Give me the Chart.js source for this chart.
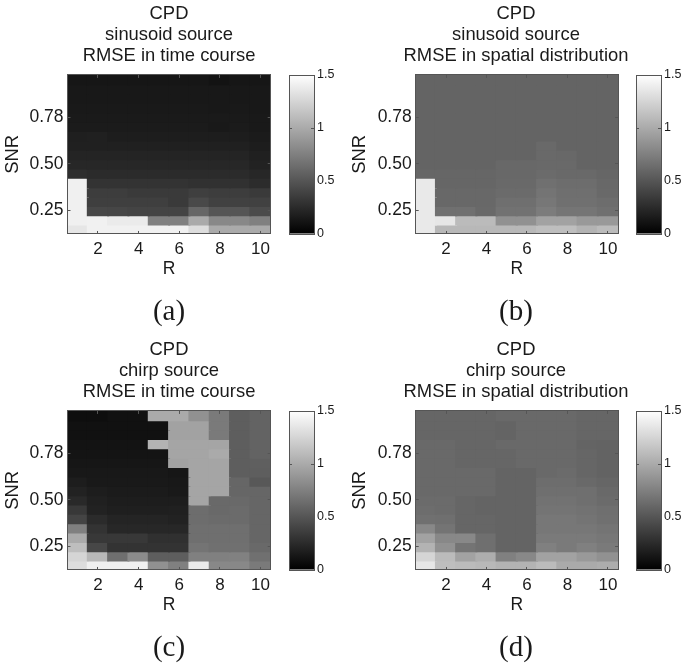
<!DOCTYPE html>
<html>
<head>
<meta charset="utf-8">
<script src="https://cdn.jsdelivr.net/npm/chart.js@4/dist/chart.umd.min.js"></script>
<style>
html,body{margin:0;padding:0;background:#fff;width:685px;height:665px;overflow:hidden}
canvas{position:absolute;display:block}
</style>
</head>
<body>
<script>
const rValues = [1,2,3,4,5,6,7,8,9,10];
const rTicks = [2,4,6,8,10];
const snrTickRows = [3,8,13];
const snrTickLabels = ['0.25','0.50','0.78'];
const colorTicks = [0,0.5,1,1.5];
const colorMax = 1.5;
const rowCount = 17;

// RMSE values, rows listed from top of the map to bottom, columns R = 1..10
const sinusoidTime = [
 [.13,.13,.13,.13,.13,.13,.13,.11,.13,.13],
 [.14,.14,.14,.14,.14,.14,.14,.14,.14,.14],
 [.14,.14,.14,.14,.14,.14,.14,.14,.14,.14],
 [.15,.15,.15,.15,.15,.15,.15,.14,.15,.14],
 [.155,.155,.155,.155,.155,.155,.155,.155,.155,.15],
 [.16,.16,.16,.16,.16,.16,.16,.15,.16,.15],
 [.18,.19,.17,.17,.17,.17,.17,.17,.17,.16],
 [.19,.19,.19,.19,.19,.19,.19,.19,.19,.17],
 [.21,.21,.21,.21,.21,.21,.21,.21,.21,.19],
 [.23,.23,.23,.23,.23,.23,.23,.23,.23,.20],
 [.27,.25,.25,.25,.25,.25,.25,.25,.25,.23],
 [1.41,.30,.30,.30,.30,.30,.29,.29,.29,.26],
 [1.41,.36,.36,.34,.34,.34,.37,.36,.36,.34],
 [1.41,.37,.37,.37,.37,.34,.43,.38,.38,.38],
 [1.41,.42,.41,.40,.40,.40,.60,.50,.50,.44],
 [1.41,1.42,1.38,1.38,.75,.75,1.00,.80,.80,.75],
 [1.35,1.42,1.42,1.42,1.42,1.42,1.30,1.00,1.00,1.00]
];
const sinusoidSpatial = [
 [.59,.59,.59,.59,.59,.59,.59,.59,.59,.59],
 [.59,.59,.59,.59,.59,.59,.59,.59,.59,.59],
 [.59,.59,.59,.59,.59,.59,.59,.59,.59,.59],
 [.59,.59,.59,.59,.59,.59,.59,.59,.59,.59],
 [.59,.59,.59,.59,.59,.59,.59,.59,.59,.59],
 [.59,.59,.59,.59,.59,.59,.59,.59,.59,.59],
 [.59,.59,.59,.59,.59,.59,.59,.59,.59,.59],
 [.59,.59,.59,.59,.59,.59,.62,.59,.59,.59],
 [.59,.59,.59,.59,.59,.59,.62,.61,.59,.59],
 [.59,.59,.59,.59,.61,.61,.62,.62,.59,.59],
 [.60,.60,.60,.60,.61,.61,.63,.62,.62,.60],
 [1.37,.60,.60,.60,.62,.62,.66,.64,.64,.61],
 [1.37,.61,.61,.61,.63,.63,.68,.65,.65,.62],
 [1.37,.61,.61,.61,.65,.65,.70,.66,.66,.64],
 [1.37,.66,.66,.62,.67,.67,.73,.69,.69,.66],
 [1.37,1.35,1.10,1.10,.85,.85,.95,.95,.90,.90],
 [1.37,1.08,1.08,1.08,1.08,1.08,1.12,1.12,1.05,1.10]
];
const chirpTime = [
 [.08,.08,.10,.10,1.00,1.00,.85,.72,.55,.58],
 [.10,.10,.10,.10,.10,.95,.95,.72,.55,.58],
 [.10,.10,.10,.10,.10,.95,.95,.72,.55,.58],
 [.11,.11,.11,.11,1.05,.97,.97,.97,.55,.58],
 [.12,.12,.12,.12,.12,.97,.97,1.00,.55,.58],
 [.13,.13,.13,.13,.13,.95,.97,.97,.55,.56],
 [.14,.14,.14,.14,.14,.13,.97,.97,.55,.55],
 [.17,.15,.15,.15,.15,.14,.97,.97,.60,.52],
 [.20,.17,.16,.16,.16,.15,.97,.97,.60,.60],
 [.24,.19,.17,.17,.17,.17,.97,.62,.62,.60],
 [.33,.20,.18,.18,.18,.19,.64,.62,.63,.60],
 [.40,.25,.21,.21,.21,.20,.64,.63,.63,.60],
 [.75,.30,.23,.23,.23,.23,.65,.65,.65,.60],
 [1.00,.33,.33,.33,.28,.28,.65,.65,.65,.60],
 [1.12,.42,.30,.30,.30,.30,.68,.66,.66,.62],
 [1.25,1.08,.65,.82,.55,.55,.75,.75,.76,.66],
 [1.30,1.41,1.41,1.41,.85,.75,1.38,.80,.80,.72]
];
const chirpSpatial = [
 [.60,.60,.60,.60,.62,.62,.62,.62,.60,.60],
 [.60,.60,.60,.60,.59,.62,.62,.62,.60,.60],
 [.60,.60,.60,.60,.59,.62,.62,.62,.60,.60],
 [.62,.62,.60,.60,.62,.62,.62,.62,.59,.58],
 [.62,.62,.60,.60,.60,.62,.62,.62,.60,.58],
 [.62,.62,.60,.60,.60,.62,.62,.62,.60,.58],
 [.62,.62,.62,.62,.59,.59,.62,.63,.60,.58],
 [.62,.62,.62,.62,.59,.59,.64,.64,.62,.60],
 [.62,.62,.62,.62,.59,.59,.65,.65,.65,.62],
 [.63,.63,.60,.59,.59,.59,.67,.67,.65,.63],
 [.64,.63,.60,.59,.59,.59,.68,.68,.67,.65],
 [.66,.65,.60,.60,.59,.59,.70,.70,.68,.66],
 [.80,.68,.60,.60,.59,.59,.70,.70,.70,.68],
 [.95,.80,.80,.65,.59,.59,.72,.72,.72,.70],
 [1.05,.85,.68,.65,.59,.59,.75,.72,.75,.72],
 [1.25,1.10,.95,1.02,.75,.80,.95,.95,.90,.85],
 [1.35,1.12,1.10,1.08,1.05,1.05,1.10,1.00,1.00,1.02]
];

const SANS = '"Liberation Sans", Arial, sans-serif';
const SERIF = '"Liberation Serif", "DejaVu Serif", serif';
const INK = '#1a1a1a';
const AXIS = '#555555';

function gray(v){
  const g = Math.round(Math.min(1, v / colorMax) * 255);
  return 'rgb(' + g + ',' + g + ',' + g + ')';
}
function mk(left, top, w, h){
  const c = document.createElement('canvas');
  c.width = w; c.height = h;
  c.style.left = left + 'px'; c.style.top = top + 'px';
  c.style.width = w + 'px'; c.style.height = h + 'px';
  document.body.appendChild(c);
  return c;
}
function axisBase(){
  return {
    grid:{drawOnChartArea:false,drawTicks:true,tickLength:-3,tickColor:AXIS,tickWidth:1,offset:false,z:3},
    border:{display:true,color:AXIS,width:1,z:3},
    offset:false
  };
}
function tickSetter(list){
  return function(scale){ scale.ticks = list.map(function(v){ return {value:v}; }); };
}

function heatPanel(opts){
  const plotLeft = opts.plotLeft, plotRight = opts.plotRight, W = 338;
  const datasets = opts.matrix.map(function(row, t){
    const rowIdx = rowCount - t;
    return {
      data: row.map(function(v, i){ return {x:rValues[i], y:[rowIdx-0.5, rowIdx+0.5]}; }),
      backgroundColor: row.map(gray),
      borderWidth:0, grouped:false, barPercentage:1, categoryPercentage:1, inflateAmount:1
    };
  });
  return new Chart(mk(opts.left, opts.top, W, 328), {
    type:'bar',
    data:{datasets:datasets},
    options:{
      responsive:false, animation:false, events:[],
      layout:{padding:0},
      plugins:{
        legend:{display:false},tooltip:{enabled:false},
        title:{display:true,text:opts.title,color:INK,font:{family:SANS,size:18.4,weight:'normal',lineHeight:1.14},padding:{top:3,bottom:9}},
        subtitle:{display:true,position:'bottom',text:opts.tag,color:INK,font:{family:SERIF,size:29,weight:'normal',lineHeight:1.07},padding:{top:0,bottom:0}}
      },
      scales:{
        x:Object.assign(axisBase(),{type:'linear',position:'bottom',min:0.5,max:10.5,
          afterBuildTicks:tickSetter(rTicks),
          afterFit:function(s){ s.height = 63; },
          ticks:{color:INK,font:{family:SANS,size:17},padding:8,maxRotation:0,autoSkip:false,callback:function(v){return String(v);}},
          title:{display:true,text:'R',color:INK,font:{family:SANS,size:17.5},padding:{top:0,bottom:17}}
        }),
        x2:Object.assign(axisBase(),{type:'linear',position:'top',min:0.5,max:10.5,
          afterBuildTicks:tickSetter(rTicks),
          afterFit:function(s){ s.height = 0; },
          ticks:{display:false}
        }),
        y:Object.assign(axisBase(),{type:'linear',position:'left',min:0.5,max:rowCount+0.5,
          afterBuildTicks:tickSetter(snrTickRows),
          afterFit:function(s){ s.width = plotLeft; },
          ticks:{color:INK,font:{family:SANS,size:17.5},padding:7,autoSkip:false,
            callback:function(v){ return snrTickLabels[snrTickRows.indexOf(v)]; }},
          title:{display:true,text:'SNR',color:INK,font:{family:SANS,size:18.4},padding:{top:2,bottom:0}}
        }),
        y2:Object.assign(axisBase(),{type:'linear',position:'right',min:0.5,max:rowCount+0.5,
          afterBuildTicks:tickSetter(snrTickRows),
          afterFit:function(s){ s.width = W - plotRight; },
          ticks:{display:false}
        })
      }
    }
  });
}

function colorBar(left, top){
  const padTop = 15, w = 60, h = 200;
  new Chart(mk(left, top, w, h), {
    type:'bar',
    data:{labels:['c'],datasets:[{
      data:[[0,colorMax]],
      borderWidth:0,barPercentage:1,categoryPercentage:1,inflateAmount:0,
      backgroundColor:function(ctx){
        const a = ctx.chart.chartArea;
        if(!a || !isFinite(a.top) || !isFinite(a.bottom)) return '#888888';
        const g = ctx.chart.ctx.createLinearGradient(0,a.bottom,0,a.top);
        g.addColorStop(0,'#000000');
        g.addColorStop(1,'#ffffff');
        return g;
      }
    }]},
    options:{
      responsive:false,animation:false,events:[],
      layout:{padding:{left:9,right:0,top:padTop,bottom:h-padTop-159}},
      plugins:{legend:{display:false},tooltip:{enabled:false}},
      scales:{
        x:{type:'category',position:'bottom',offset:true,grid:{display:false,drawTicks:false},ticks:{display:false},
           border:{display:true,color:AXIS,width:1,z:3},afterFit:function(s){s.height=0;}},
        xt:{type:'category',position:'top',labels:['c'],grid:{display:false,drawTicks:false},ticks:{display:false},
           border:{display:true,color:AXIS,width:1,z:3},afterFit:function(s){s.height=0;}},
        y:Object.assign(axisBase(),{type:'linear',position:'right',min:0,max:colorMax,
          afterBuildTicks:tickSetter(colorTicks),
          afterFit:function(s){ s.width = 26; },
          ticks:{color:INK,font:{family:SANS,size:12.5},padding:6,autoSkip:false,align:'center',
            callback:function(v){ return String(v); }}
        }),
        yl:Object.assign(axisBase(),{type:'linear',position:'left',min:0,max:colorMax,
          afterBuildTicks:tickSetter(colorTicks),
          afterFit:function(s){ s.width = 0; },
          ticks:{display:false}
        })
      }
    }
  });
}

heatPanel({left:0,top:0,plotLeft:67.5,plotRight:270.7,matrix:sinusoidTime,
  title:['CPD','sinusoid source','RMSE in time course'],tag:'(a)'});
heatPanel({left:347,top:0,plotLeft:68.7,plotRight:271,matrix:sinusoidSpatial,
  title:['CPD','sinusoid source','RMSE in spatial distribution'],tag:'(b)'});
heatPanel({left:0,top:336,plotLeft:67.5,plotRight:270.7,matrix:chirpTime,
  title:['CPD','chirp source','RMSE in time course'],tag:'(c)'});
heatPanel({left:347,top:336,plotLeft:68.7,plotRight:271,matrix:chirpSpatial,
  title:['CPD','chirp source','RMSE in spatial distribution'],tag:'(d)'});

colorBar(280,60);
colorBar(627,60);
colorBar(280,396);
colorBar(627,396);
</script>
</body>
</html>
